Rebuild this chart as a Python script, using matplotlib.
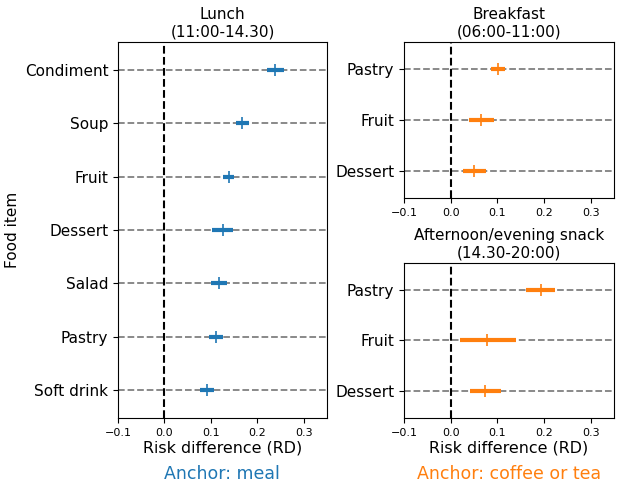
import matplotlib
matplotlib.use("Agg")
import matplotlib.pyplot as plt
import numpy as np

# data (risk differences with CI)
lunch_items = ["Soft drink", "Pastry", "Salad", "Dessert", "Fruit", "Soup", "Condiment"]
lunch_rd = [0.091, 0.111, 0.117, 0.126, 0.138, 0.168, 0.239]
lunch_lo = [0.077, 0.096, 0.101, 0.103, 0.126, 0.155, 0.221]
lunch_hi = [0.106, 0.126, 0.135, 0.148, 0.150, 0.181, 0.258]

bf_items = ["Dessert", "Fruit", "Pastry"]
bf_rd = [0.050, 0.066, 0.101]
bf_lo = [0.026, 0.039, 0.087]
bf_hi = [0.075, 0.093, 0.116]

snack_items = ["Dessert", "Fruit", "Pastry"]
snack_rd = [0.074, 0.077, 0.193]
snack_lo = [0.041, 0.020, 0.162]
snack_hi = [0.107, 0.139, 0.223]

W, H = 622, 492
fig = plt.figure(figsize=(W / 100, H / 100), dpi=100)

def box(x0, y0, x1, y1):
    return [x0 / W, 1 - y1 / H, (x1 - x0) / W, (y1 - y0) / H]

ax_l = fig.add_axes(box(118, 42, 327, 418))
ax_b = fig.add_axes(box(404, 42, 614, 198))
ax_s = fig.add_axes(box(404, 263, 614, 418))


def forest(ax, items, rd, lo, hi, color, title):
    y = np.arange(len(items))
    rd = np.array(rd)
    err = [rd - np.array(lo), np.array(hi) - rd]
    for yy in y:
        ax.axhline(yy, color="gray", ls="--", lw=1.3, zorder=1)
    ax.axvline(0, color="black", ls="--", lw=1.5, zorder=1)
    ax.errorbar(rd, y, xerr=err, fmt="|", color=color, ecolor=color,
                elinewidth=3, markersize=8, markeredgewidth=1.2, zorder=3)
    ax.set_yticks(y)
    ax.set_yticklabels(items, fontsize=11)
    ax.set_xlim(-0.1, 0.35)
    ax.set_xticks([-0.1, 0.0, 0.1, 0.2, 0.3])
    ax.tick_params(axis="x", labelsize=8)
    ax.set_ylim(-0.52, len(items) - 0.48)
    ax.set_title(title, fontsize=11, pad=4)


forest(ax_l, lunch_items, lunch_rd, lunch_lo, lunch_hi, "tab:blue", "Lunch\n(11:00-14.30)")
forest(ax_b, bf_items, bf_rd, bf_lo, bf_hi, "tab:orange", "Breakfast\n(06:00-11:00)")
forest(ax_s, snack_items, snack_rd, snack_lo, snack_hi, "tab:orange",
       "Afternoon/evening snack\n(14.30-20:00)")

ax_l.set_ylabel("Food item", fontsize=11)
ax_l.yaxis.set_label_coords(-0.47, 0.5)
ax_l.set_xlabel("Risk difference (RD)", fontsize=11.4, labelpad=2)
ax_s.set_xlabel("Risk difference (RD)", fontsize=11.4, labelpad=2)

fig.text(222 / W, 1 - 474 / H, "Anchor: meal", color="tab:blue", fontsize=12.5,
         ha="center", va="center")
fig.text(509 / W, 1 - 474 / H, "Anchor: coffee or tea", color="tab:orange", fontsize=12.5,
         ha="center", va="center")

fig.savefig("out.png", dpi=100)
